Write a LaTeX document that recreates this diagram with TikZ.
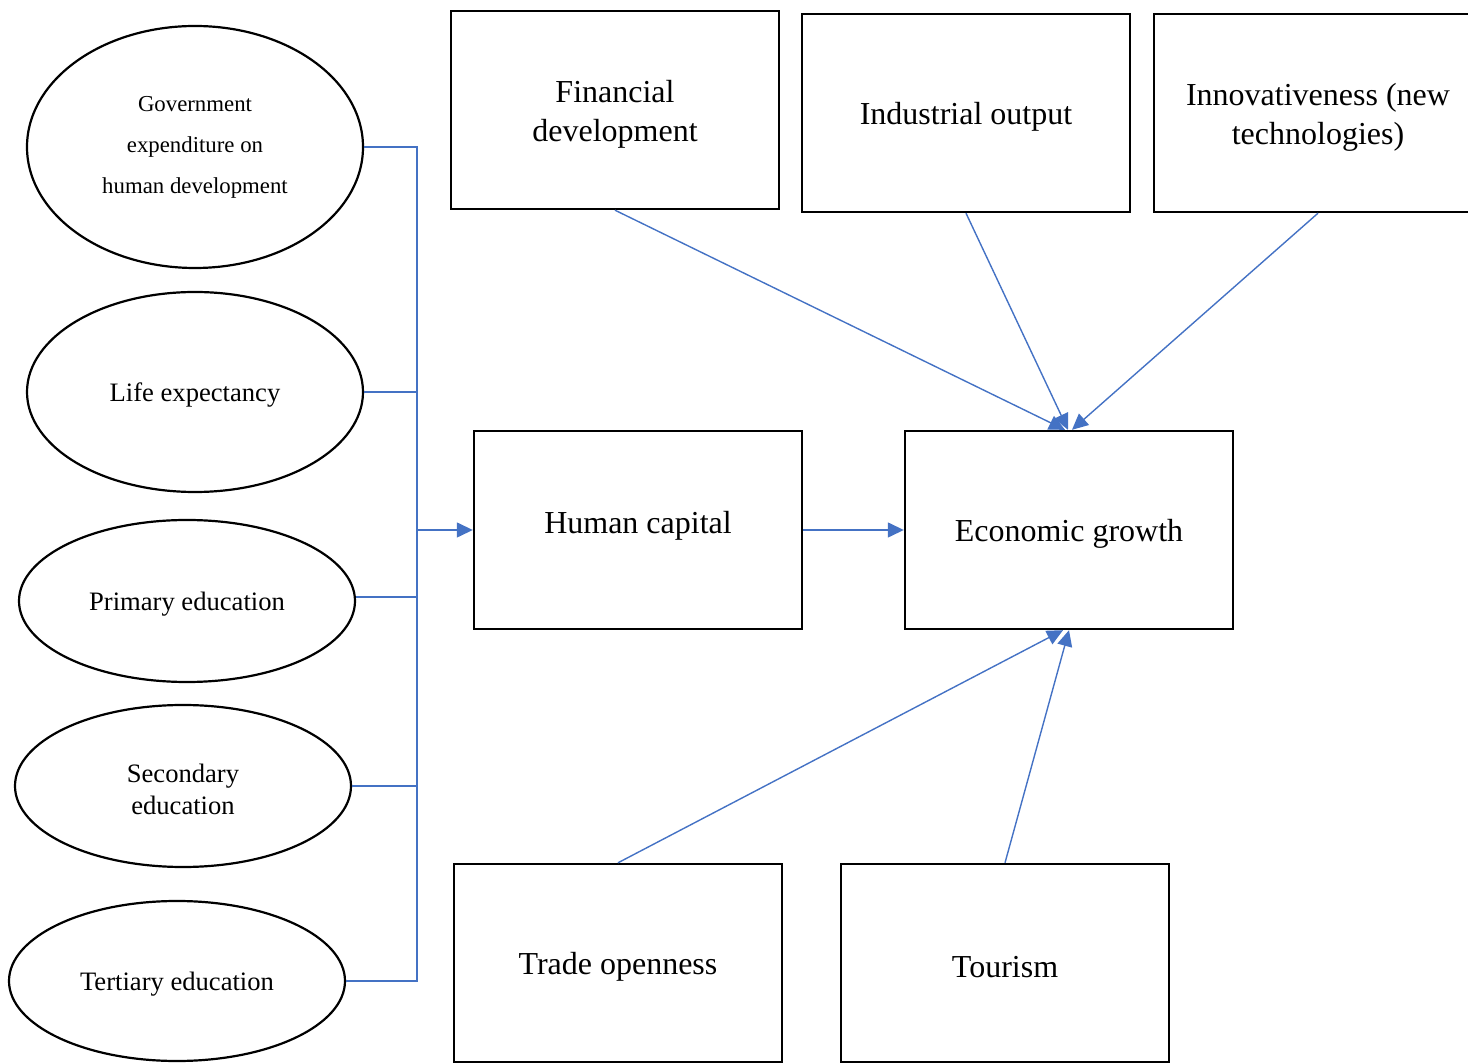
\documentclass[tikz,border=0pt]{standalone}
\usepackage{fontspec}
\setmainfont{Liberation Serif}
\usetikzlibrary{arrows.meta,shapes.geometric}
\definecolor{lineblue}{HTML}{4472C4}
\tikzset{
  box/.style={draw=black, line width=1.2pt, minimum width=164pt, minimum height=99pt, inner sep=0pt},
  boxtext/.style={align=center, font=\fontsize{16}{19.5}\selectfont, inner sep=0pt, yshift=-2pt},
  oval/.style={draw=black, line width=1.1pt, ellipse, minimum width=168pt, inner sep=0pt},
  ovaltext/.style={align=center, font=\fontsize{13.3}{16}\selectfont, inner sep=0pt, yshift=-1.5pt},
  conn/.style={draw=lineblue, line width=0.7pt},
  arr/.style={conn, -{Triangle[length=8pt,width=7.5pt]}}
}
\begin{document}
\begin{tikzpicture}[x=0.5pt,y=-0.5pt]
\useasboundingbox (0,0) rectangle (1468,1063);
\clip (0,0) rectangle (1468,1063);
% ellipses
\node[oval, minimum height=121pt, label={[ovaltext, font=\fontsize{11.4}{20.5}\selectfont, yshift=1.5pt]center:{Government\\expenditure on\\human development}}] (e1) at (195,147) {};
\node[oval, minimum height=100pt, label={[ovaltext]center:Life expectancy}] (e2) at (195,392) {};
\node[oval, minimum height=81pt, label={[ovaltext]center:Primary education}] (e3) at (187,601) {};
\node[oval, minimum height=81pt, label={[ovaltext]center:{Secondary\\education}}] (e4) at (183,786) {};
\node[oval, minimum height=80pt, label={[ovaltext]center:Tertiary education}] (e5) at (177,981) {};
% boxes
\node[box, label={[boxtext]center:{Financial\\development}}] (fd) at (615,110) {};
\node[box, label={[boxtext]center:Industrial output}] (io) at (966,113) {};
\node[box, label={[boxtext]center:{Innovativeness (new\\technologies)}}] (in) at (1318,113) {};
\node[box, label={[boxtext, yshift=4pt]center:Human capital}] (hc) at (638,530) {};
\node[box, label={[boxtext]center:Economic growth}] (eg) at (1069,530) {};
\node[box, label={[boxtext]center:Trade openness}] (to) at (618,963) {};
\node[box, label={[boxtext]center:Tourism}] (tr) at (1005,963) {};
% bus
\coordinate (bt) at (417,147);
\coordinate (bb) at (417,981);
\coordinate (bj) at (417,530);
\draw[conn] (e1.east) -- (bt) -- (bb) -- (e5.east);
\draw[conn] (e2.east) -- (e2.east -| bt);
\draw[conn] ([yshift=2pt]e3.east) -- ([yshift=2pt]e3.east -| bt);
\draw[conn] (e4.east) -- (e4.east -| bt);
\draw[arr] (bj) -- (hc.west);
% arrows
\draw[arr] (hc.east) -- (eg.west);
\draw[arr] (fd.south) -- ([xshift=-2pt]eg.north);
\draw[arr] (io.south) -- ([xshift=-0.5pt]eg.north);
\draw[arr] (in.south) -- ([xshift=1.5pt]eg.north);
\draw[arr] (to.north) -- ([xshift=-3pt]eg.south);
\draw[arr] (tr.north) -- (eg.south);
\end{tikzpicture}
\end{document}
